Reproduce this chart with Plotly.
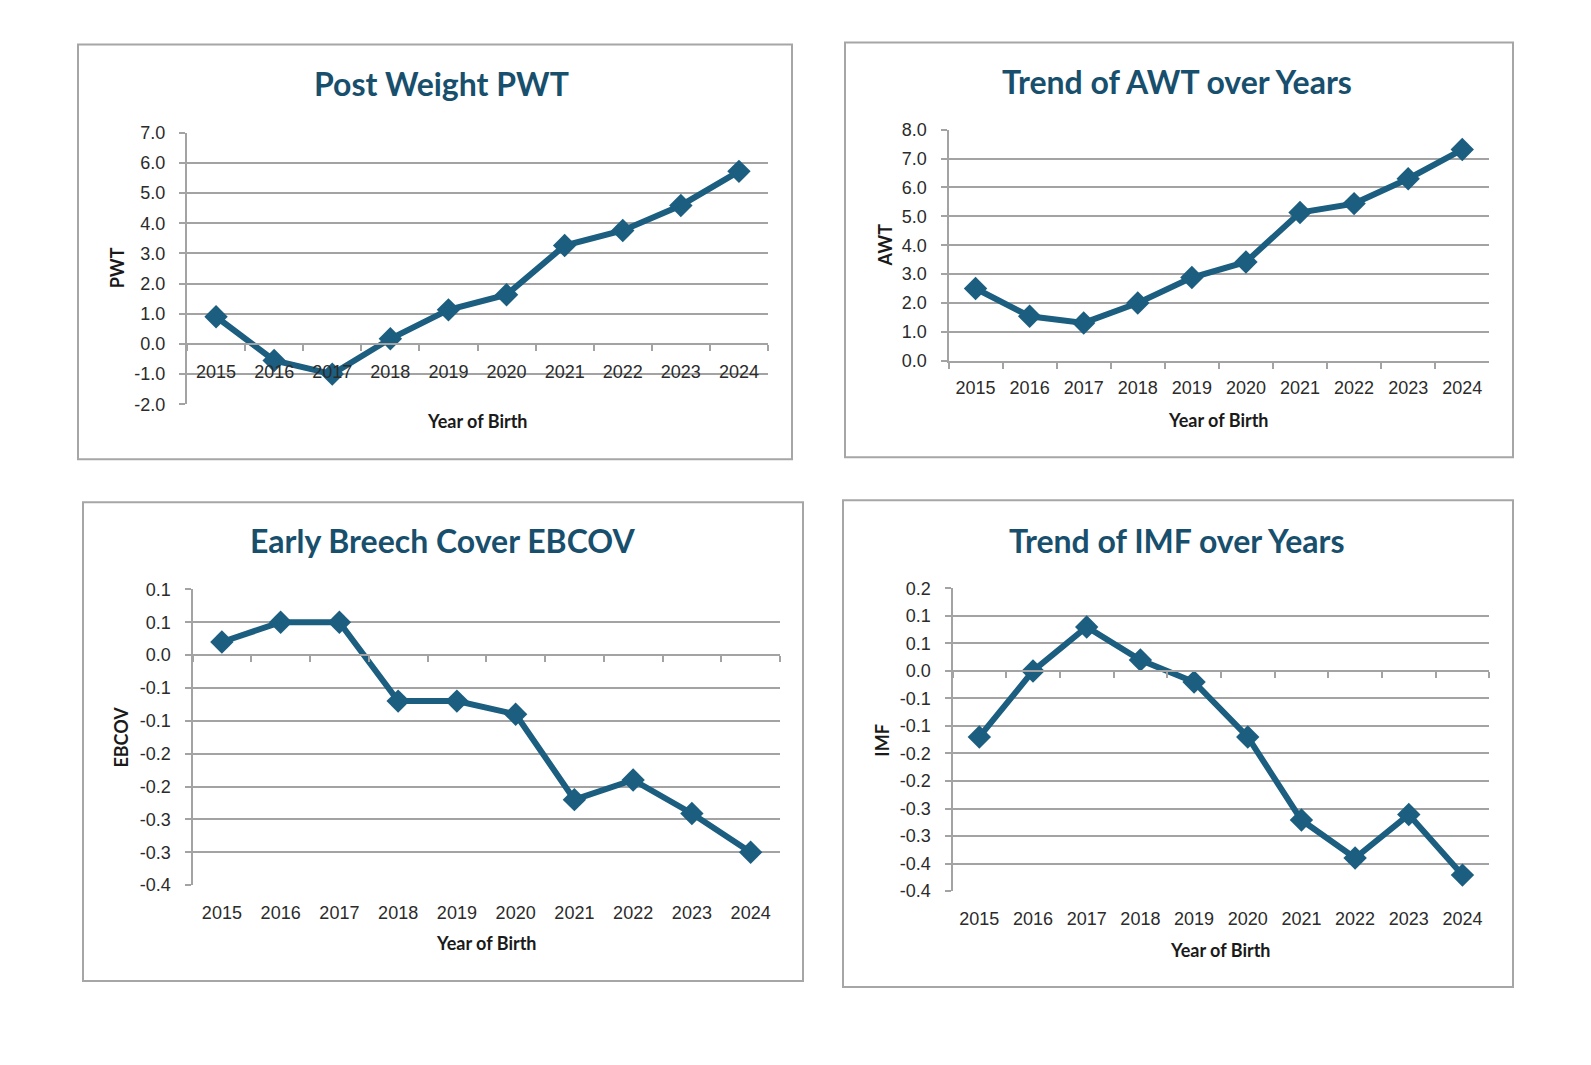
import plotly.graph_objects as go

W, H = 1591, 1065

# ---------------- data ----------------
years = ["2015", "2016", "2017", "2018", "2019", "2020", "2021", "2022", "2023", "2024"]

pwt = [0.90, -0.55, -1.00, 0.17, 1.13, 1.63, 3.26, 3.76, 4.59, 5.72]
awt = [2.50, 1.54, 1.31, 2.00, 2.88, 3.42, 5.13, 5.44, 6.30, 7.31]
ebcov = [0.020, 0.050, 0.050, -0.070, -0.070, -0.090, -0.220, -0.190, -0.241, -0.300]
imf = [-0.120, 0.000, 0.080, 0.020, -0.020, -0.120, -0.271, -0.340, -0.261, -0.371]

pwt_tickvals = [-2, -1, 0, 1, 2, 3, 4, 5, 6, 7]
pwt_ticktext = ["-2.0", "-1.0", "0.0", "1.0", "2.0", "3.0", "4.0", "5.0", "6.0", "7.0"]
awt_tickvals = [0, 1, 2, 3, 4, 5, 6, 7, 8]
awt_ticktext = ["0.0", "1.0", "2.0", "3.0", "4.0", "5.0", "6.0", "7.0", "8.0"]
ebcov_tickvals = [-0.35, -0.30, -0.25, -0.20, -0.15, -0.10, -0.05, 0.0, 0.05, 0.10]
ebcov_ticktext = ["-0.4", "-0.3", "-0.3", "-0.2", "-0.2", "-0.1", "-0.1", "0.0", "0.1", "0.1"]
imf_tickvals = [-0.40, -0.35, -0.30, -0.25, -0.20, -0.15, -0.10, -0.05, 0.0, 0.05, 0.10, 0.15]
imf_ticktext = ["-0.4", "-0.4", "-0.3", "-0.3", "-0.2", "-0.2", "-0.1", "-0.1", "0.0", "0.1", "0.1", "0.2"]

titles = ["Post Weight PWT", "Trend of AWT over Years", "Early Breech Cover EBCOV", "Trend of IMF over Years"]
y_titles = ["PWT", "AWT", "EBCOV", "IMF"]
x_title = "Year of Birth"

# ---------------- style ----------------
LINE = "#1B5E80"
TITLE_C = "#174F6D"
GRID = "#A3A3A3"
BORDER = "#A6A6A6"
TICK_FONT = dict(family="Liberation Sans, Arial, sans-serif", size=18, color="#2B2B2B")
BOLD_FONT = "Lato, Open Sans, sans-serif"


def fx(x):
    return x / W


def fy(y):
    return 1 - y / H


# pixel geometry of each chart (left, top, right, bottom)
charts = [
    dict(box=(78, 35.1, 792, 457.8), plot=(187, 125.1, 768, 401.8), rng=(-2, 7),
         tv=pwt_tickvals, tt=pwt_ticktext, data=pwt, mode="cross",
         title_xy=(441, 74.8), ytitle_xy=(117, 263.3), xtitle_xy=(477, 419.1)),
    dict(box=(845, 33.1, 1513, 455.8), plot=(948.5, 121.9, 1489.3, 357.5), rng=(0, 8),
         tv=awt_tickvals, tt=awt_ticktext, data=awt, mode="bottom",
         title_xy=(1177, 72.8), ytitle_xy=(885, 239.9), xtitle_xy=(1218, 418.1)),
    dict(box=(83, 501.6, 803, 989.5), plot=(192.5, 590.5, 780, 891.8), rng=(-0.35, 0.10),
         tv=ebcov_tickvals, tt=ebcov_ticktext, data=ebcov, mode="low",
         title_xy=(442, 540.3), ytitle_xy=(121.5, 741), xtitle_xy=(486.5, 950.8)),
    dict(box=(843, 499.6, 1513, 995.7), plot=(952.5, 589.5, 1489.3, 897.9), rng=(-0.40, 0.15),
         tv=imf_tickvals, tt=imf_ticktext, data=imf, mode="low",
         title_xy=(1176, 540.3), ytitle_xy=(882.5, 744.1), xtitle_xy=(1220, 957.9)),
]

fig = go.Figure()
layout = dict(
    width=W, height=H, margin=dict(l=0, r=0, t=0, b=0),
    paper_bgcolor="white", plot_bgcolor="rgba(0,0,0,0)",
    showlegend=False, shapes=[], annotations=[],
)

boundaries = [i - 0.5 for i in range(len(years) + 1)]
extra = 5

for i, c in enumerate(charts, start=1):
    sx = "" if i == 1 else str(i)
    xa, ya = "xaxis" + sx, "yaxis" + sx
    x0, y0, x1, y1 = c["plot"]
    xdom = [fx(x0), fx(x1)]
    ydom = [fy(y1), fy(y0)]
    lo, hi = c["rng"]
    zero_pos = ydom[0] + (0 - lo) / (hi - lo) * (ydom[1] - ydom[0])

    fig.add_trace(go.Scatter(
        x=years, y=c["data"], xaxis="x" + sx, yaxis="y" + sx,
        mode="lines+markers",
        line=dict(color=LINE, width=6),
        marker=dict(symbol="diamond", size=18, color=LINE),
        hoverinfo="x+y",
    ))

    layout[ya] = dict(
        domain=ydom, range=[lo, hi], anchor="x" + sx,
        tickvals=c["tv"], ticktext=c["tt"], tickfont=TICK_FONT,
        showgrid=True, gridcolor=GRID, gridwidth=2,
        showline=True, linecolor=GRID, linewidth=2,
        ticks="outside", ticklen=6, tickwidth=2, tickcolor=GRID,
        ticklabelstandoff=10, zeroline=False, fixedrange=True,
    )
    xdict = dict(
        domain=xdom, type="category", categoryorder="array", categoryarray=years,
        range=[-0.5, len(years) - 0.5], tickfont=TICK_FONT,
        showgrid=False, zeroline=False, fixedrange=True,
        tickson="boundaries",
    )
    if c["mode"] == "cross":
        xdict.update(anchor="free", position=zero_pos, showline=True, linecolor=GRID,
                     linewidth=2, ticks="outside", ticklen=6, tickwidth=2, tickcolor=GRID,
                     ticklabelstandoff=11)
    elif c["mode"] == "bottom":
        xdict.update(anchor="y" + sx, showline=True, linecolor=GRID, linewidth=2,
                     ticks="outside", ticklen=6, tickwidth=2, tickcolor=GRID,
                     ticklabelstandoff=10)
    else:
        xdict.update(anchor="y" + sx, showline=False, ticks="", ticklabelstandoff=15)
        # axis line crossing at zero, with boundary ticks
        ox = "xaxis" + str(extra)
        layout[ox] = dict(
            overlaying="x" + sx, anchor="free", position=zero_pos, type="linear",
            range=[-0.5, len(years) - 0.5], tickvals=boundaries, showticklabels=False,
            showline=True, linecolor=GRID, linewidth=2, ticks="outside", ticklen=6,
            tickwidth=2, tickcolor=GRID, showgrid=False, zeroline=False, fixedrange=True,
        )
        fig.add_trace(go.Scatter(x=[], y=[], xaxis="x" + str(extra), yaxis="y" + sx,
                                 hoverinfo="skip"))
        extra += 1
    layout[xa] = xdict

    bx0, by0, bx1, by1 = c["box"]
    layout["shapes"].append(dict(
        type="rect", xref="paper", yref="paper",
        x0=fx(bx0), x1=fx(bx1), y0=fy(by1), y1=fy(by0),
        line=dict(color=BORDER, width=2), fillcolor="rgba(0,0,0,0)", layer="below",
    ))

    tx, ty = c["title_xy"]
    layout["annotations"].append(dict(
        text="<b>" + titles[i - 1] + "</b>", xref="paper", yref="paper",
        x=fx(tx), y=fy(ty), xanchor="center", yanchor="middle", showarrow=False,
        font=dict(family=BOLD_FONT, size=32, color=TITLE_C, weight=900),
    ))
    ax_, ay_ = c["ytitle_xy"]
    layout["annotations"].append(dict(
        text="<b>" + y_titles[i - 1] + "</b>", xref="paper", yref="paper",
        x=fx(ax_), y=fy(ay_), xanchor="center", yanchor="middle", showarrow=False,
        textangle=-90, font=dict(family=BOLD_FONT, size=18, color="#1A1A1A", weight=900),
    ))
    bx_, by_ = c["xtitle_xy"]
    layout["annotations"].append(dict(
        text="<b>" + x_title + "</b>", xref="paper", yref="paper",
        x=fx(bx_), y=fy(by_), xanchor="center", yanchor="middle", showarrow=False,
        font=dict(family=BOLD_FONT, size=18, color="#1A1A1A", weight=900),
    ))

fig.update_layout(**layout)
fig.write_html(
    "out.html",
    config={"displayModeBar": False},
    post_script="document.body.style.margin='0';document.body.style.overflow='hidden';",
)
